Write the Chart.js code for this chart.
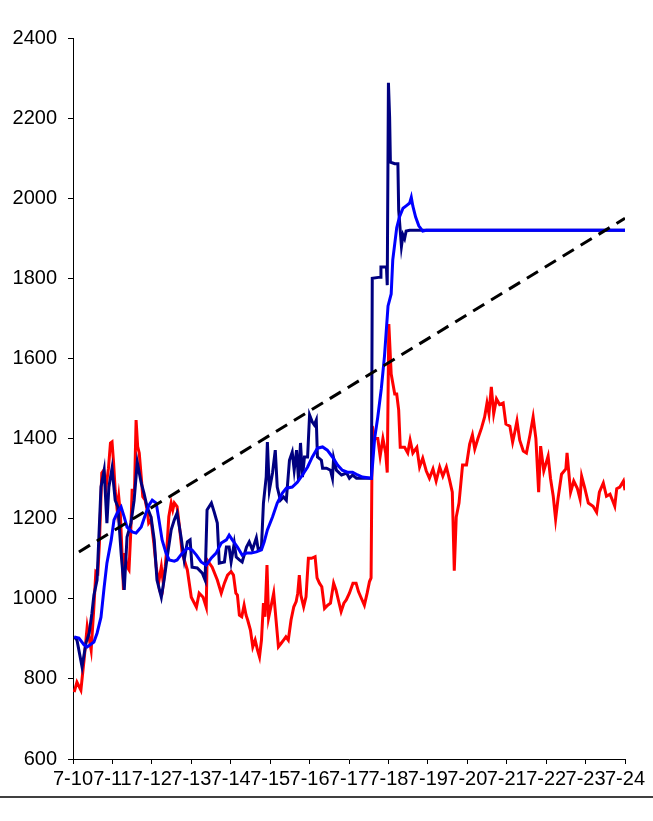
<!DOCTYPE html>
<html>
<head>
<meta charset="utf-8">
<script src="https://cdn.jsdelivr.net/npm/chart.js@4.4.0/dist/chart.umd.min.js"></script>
<style>
  body { margin: 0; background: #fff; }
  #wrap { position: relative; width: 653px; height: 797px; }
  #baseLine { position: absolute; left: 0; top: 796px; width: 653px; height: 2px; background: #404040; }
</style>
</head>
<body>
<div id="wrap"><canvas id="myChart" width="653" height="797"></canvas></div>
<div id="baseLine"></div>
<script>
// tick labels on the x axis (one per day)
const dayLabels = ["7-10", "7-11", "7-12", "7-13", "7-14", "7-15", "7-16", "7-17",
  "7-18", "7-19", "7-20", "7-21", "7-22", "7-23", "7-24"];

// red series (days since 7-10, value)
const redDays = [0.03, 0.10, 0.20, 0.28, 0.36, 0.46, 0.53, 0.58, 0.63, 0.67, 0.73, 0.78,
  0.84, 0.90, 0.95, 0.99, 1.03, 1.07, 1.12, 1.16, 1.20, 1.24, 1.28, 1.32, 1.37, 1.42,
  1.46, 1.50, 1.56, 1.60, 1.64, 1.68, 1.73, 1.77, 1.83, 1.88, 1.92, 1.98, 2.05, 2.11,
  2.17, 2.24, 2.29, 2.34, 2.39, 2.43, 2.49, 2.53, 2.57, 2.64, 2.70, 2.77, 2.90, 3.00,
  3.13, 3.20, 3.30, 3.38, 3.40, 3.53, 3.66, 3.76, 3.84, 3.92, 4.01, 4.07, 4.13, 4.17,
  4.22, 4.28, 4.34, 4.39, 4.43, 4.50, 4.56, 4.62, 4.68, 4.73, 4.78, 4.83, 4.87, 4.92,
  4.96, 5.02, 5.09, 5.15, 5.21, 5.28, 5.34, 5.40, 5.46, 5.53, 5.60, 5.66, 5.70, 5.74,
  5.78, 5.85, 5.91, 5.97, 6.05, 6.14, 6.19, 6.25, 6.31, 6.38, 6.46, 6.53, 6.61, 6.67,
  6.73, 6.80, 6.87, 6.93, 7.01, 7.10, 7.18, 7.24, 7.31, 7.39, 7.46, 7.52, 7.56, 7.59,
  7.65, 7.73, 7.79, 7.86, 7.93, 7.97, 8.01, 8.07, 8.16, 8.21, 8.26, 8.30, 8.41, 8.49,
  8.55, 8.62, 8.72, 8.79, 8.87, 8.96, 9.04, 9.13, 9.21, 9.30, 9.38, 9.47, 9.55, 9.62,
  9.67, 9.72, 9.79, 9.88, 9.98, 10.06, 10.13, 10.19, 10.27, 10.36, 10.44, 10.50, 10.55,
  10.61, 10.67, 10.74, 10.82, 10.91, 10.98, 11.08, 11.15, 11.20, 11.26, 11.33, 11.42,
  11.50, 11.59, 11.67, 11.74, 11.81, 11.86, 11.94, 12.05, 12.11, 12.18, 12.24, 12.30,
  12.39, 12.50, 12.53, 12.62, 12.70, 12.79, 12.86, 12.90, 12.98, 13.07, 13.19, 13.28,
  13.35, 13.45, 13.53, 13.62, 13.69, 13.74, 13.79, 13.87, 13.96, 14.00];
const redVals = [767, 792, 772, 847, 930, 872, 980, 1068, 1064, 1139, 1314, 1321,
  1280, 1326, 1389, 1392, 1339, 1271, 1222, 1255, 1214, 1122, 1022, 1114, 1080, 1072,
  1155, 1271, 1271, 1446, 1380, 1364, 1305, 1255, 1246, 1222, 1189, 1197, 1139, 1080,
  1039, 1080, 1039, 1080, 1139, 1205, 1239, 1222, 1239, 1230, 1180, 1114, 1072, 1004,
  979, 1014, 1004, 979, 1097, 1079, 1047, 1014, 1039, 1059, 1068, 1059, 1014, 1009,
  959, 955, 984, 959, 947, 922, 880, 897, 872, 855, 897, 989, 955, 1084,
  952, 980, 1014, 947, 880, 889, 897, 905, 897, 947, 980, 993, 1014, 1059,
  1009, 980, 1005, 1101, 1101, 1105, 1052, 1039, 1030, 976, 984, 989, 1039, 1022,
  997, 968, 989, 997, 1014, 1039, 1039, 1018, 1002, 984, 1014, 1043, 1052, 1431,
  1400, 1400, 1356, 1400, 1364, 1315, 1686, 1561, 1511, 1511, 1471, 1378, 1378, 1364,
  1396, 1364, 1378, 1329, 1351, 1319, 1301, 1324, 1294, 1329, 1306, 1329, 1297, 1266,
  1070, 1204, 1239, 1334, 1334, 1386, 1409, 1374, 1400, 1426, 1454, 1489, 1462,
  1529, 1462, 1499, 1485, 1489, 1436, 1431, 1391, 1414, 1444, 1396, 1369,
  1364, 1409, 1454, 1400, 1266, 1381, 1319, 1356, 1301, 1256, 1199, 1249,
  1311, 1324, 1364, 1266, 1294, 1276, 1249, 1306, 1276, 1239, 1231, 1216,
  1266, 1289, 1256, 1261, 1244, 1231, 1275, 1279, 1294, 1271];

// dark navy series
const navyDays = [0.03, 0.10, 0.23, 0.33, 0.41, 0.48, 0.53, 0.61, 0.71, 0.79, 0.86, 0.91,
  0.99, 1.07, 1.14, 1.22, 1.30, 1.37, 1.47, 1.55, 1.63, 1.73, 1.80, 1.88, 1.98, 2.06,
  2.13, 2.24, 2.31, 2.39, 2.49, 2.57, 2.64, 2.74, 2.82, 2.90, 2.97, 3.02, 3.15, 3.28,
  3.35, 3.40, 3.51, 3.58, 3.66, 3.71, 3.84, 3.89, 3.96, 4.01, 4.09, 4.14, 4.22, 4.29,
  4.40, 4.47, 4.55, 4.65, 4.70, 4.78, 4.83, 4.90, 4.93, 4.98, 5.06, 5.13, 5.18, 5.26,
  5.34, 5.41, 5.49, 5.56, 5.61, 5.67, 5.72, 5.77, 5.82, 5.87, 5.95, 6.00, 6.07, 6.12,
  6.17, 6.20, 6.30, 6.33, 6.43, 6.53, 6.58, 6.61, 6.68, 6.81, 6.94, 7.01, 7.09, 7.19,
  7.57, 7.59, 7.79, 7.81, 7.95, 7.97, 8.00, 8.03, 8.05, 8.16, 8.24, 8.26, 8.33, 8.37,
  8.41, 8.45, 8.54, 14.00];
const navyVals = [905, 897, 830, 890, 914, 964, 1009, 1047, 1279, 1321, 1189, 1279,
  1326, 1246, 1229, 1114, 1022, 1154, 1189, 1246, 1341, 1289, 1264, 1229, 1204, 1147,
  1047, 1004, 1047, 1104, 1172, 1197, 1214, 1154, 1097, 1142, 1147, 1079, 1077, 1064,
  1047, 1222, 1239, 1217, 1189, 1089, 1092, 1129, 1129, 1092, 1139, 1104, 1097, 1092,
  1129, 1142, 1122, 1152, 1122, 1129, 1239, 1304, 1391, 1271, 1314, 1371, 1279, 1246,
  1254, 1246, 1346, 1366, 1321, 1371, 1296, 1389, 1304, 1354, 1354, 1459, 1441, 1434,
  1446, 1354, 1346, 1326, 1326, 1321, 1301, 1351, 1321, 1309, 1314, 1301, 1309, 1301,
  1301, 1800, 1803, 1828, 1828, 1783, 2288, 2203, 2090, 2086, 2086, 1970, 1880, 1908,
  1899, 1918, 1920, 1920];

// bright blue (smoothed) series
const blueDays = [0.03, 0.15, 0.28, 0.36, 0.53, 0.61, 0.71, 0.79, 0.86, 0.97, 1.04, 1.12,
  1.22, 1.30, 1.37, 1.50, 1.60, 1.73, 1.85, 1.93, 2.01, 2.11, 2.18, 2.26, 2.36, 2.44,
  2.57, 2.64, 2.77, 2.90, 3.02, 3.13, 3.25, 3.38, 3.51, 3.63, 3.76, 3.89, 3.96, 4.04,
  4.17, 4.29, 4.40, 4.52, 4.65, 4.78, 4.85, 4.93, 5.06, 5.18, 5.31, 5.41, 5.56, 5.69,
  5.82, 5.95, 6.07, 6.20, 6.33, 6.45, 6.58, 6.71, 6.83, 6.96, 7.09, 7.22, 7.34, 7.57,
  7.65, 7.73, 7.82, 7.90, 7.99, 8.07, 8.11, 8.16, 8.21, 8.28, 8.37, 8.45, 8.54, 8.58,
  8.62, 8.69, 8.77, 8.87, 8.96, 14.00];
const blueVals = [905, 902, 885, 880, 892, 914, 954, 1029, 1089, 1147, 1197, 1214,
  1229, 1204, 1179, 1167, 1164, 1179, 1214, 1234, 1246, 1239, 1197, 1147, 1114, 1097,
  1094, 1097, 1114, 1127, 1122, 1109, 1092, 1084, 1102, 1114, 1139, 1147, 1159, 1147,
  1129, 1109, 1114, 1114, 1117, 1122, 1142, 1172, 1204, 1239, 1264, 1276, 1279, 1291,
  1309, 1329, 1354, 1376, 1379, 1371, 1354, 1334, 1321, 1316, 1316, 1309, 1304, 1301,
  1400, 1454, 1525, 1606, 1731, 1761, 1846, 1886, 1926, 1953, 1975, 1981, 1988, 2002,
  1980, 1953, 1931, 1918, 1920, 1920];

// dashed trend line
const trendDays = [0.15, 14.00];
const trendVals = [1117, 1950];

const toPoints = (xs, ys) => xs.map((x, i) => ({ x: x, y: ys[i] }));

const FONT = { family: "'Liberation Sans', Arial, sans-serif", size: 20 };

const ctx = document.getElementById("myChart");
const myChart = new Chart(ctx, {
  type: "line",
  data: {
    datasets: [
      {
        label: "trend",
        data: toPoints(trendDays, trendVals),
        borderColor: "#000000",
        borderWidth: 3,
        borderDash: [13, 8],
        order: 0,
      },
      {
        label: "blue",
        data: toPoints(blueDays, blueVals),
        borderColor: "#0000FF",
        borderWidth: 3,
        order: 1,
      },
      {
        label: "navy",
        data: toPoints(navyDays, navyVals),
        borderColor: "#000080",
        borderWidth: 3,
        order: 2,
      },
      {
        label: "red",
        data: toPoints(redDays, redVals),
        borderColor: "#FF0000",
        borderWidth: 3,
        order: 3,
      },
    ],
  },
  options: {
    responsive: false,
    animation: false,
    devicePixelRatio: 1,
    elements: {
      point: { radius: 0 },
      line: { tension: 0, fill: false },
    },
    layout: { padding: { top: 38, right: 28, left: 0, bottom: 0 } },
    plugins: {
      legend: { display: false },
      tooltip: { enabled: false },
    },
    scales: {
      x: {
        type: "linear",
        min: 0,
        max: 14,
        afterFit: (scale) => { scale.height = 38; },
        border: { color: "#000000", width: 1 },
        grid: { drawOnChartArea: false, drawTicks: true, tickLength: 5, color: "#000000" },
        ticks: {
          stepSize: 1,
          autoSkip: false,
          maxRotation: 0,
          padding: 3,
          color: "#000000",
          font: FONT,
          callback: (v) => dayLabels[v],
        },
      },
      y: {
        min: 600,
        max: 2400,
        afterFit: (scale) => { scale.width = 73; },
        border: { color: "#000000", width: 1 },
        grid: { drawOnChartArea: false, drawTicks: true, tickLength: 5, color: "#000000" },
        ticks: {
          stepSize: 200,
          padding: 11,
          color: "#000000",
          font: FONT,
          callback: (v) => String(v),
        },
      },
    },
  },
});
</script>
</body>
</html>
